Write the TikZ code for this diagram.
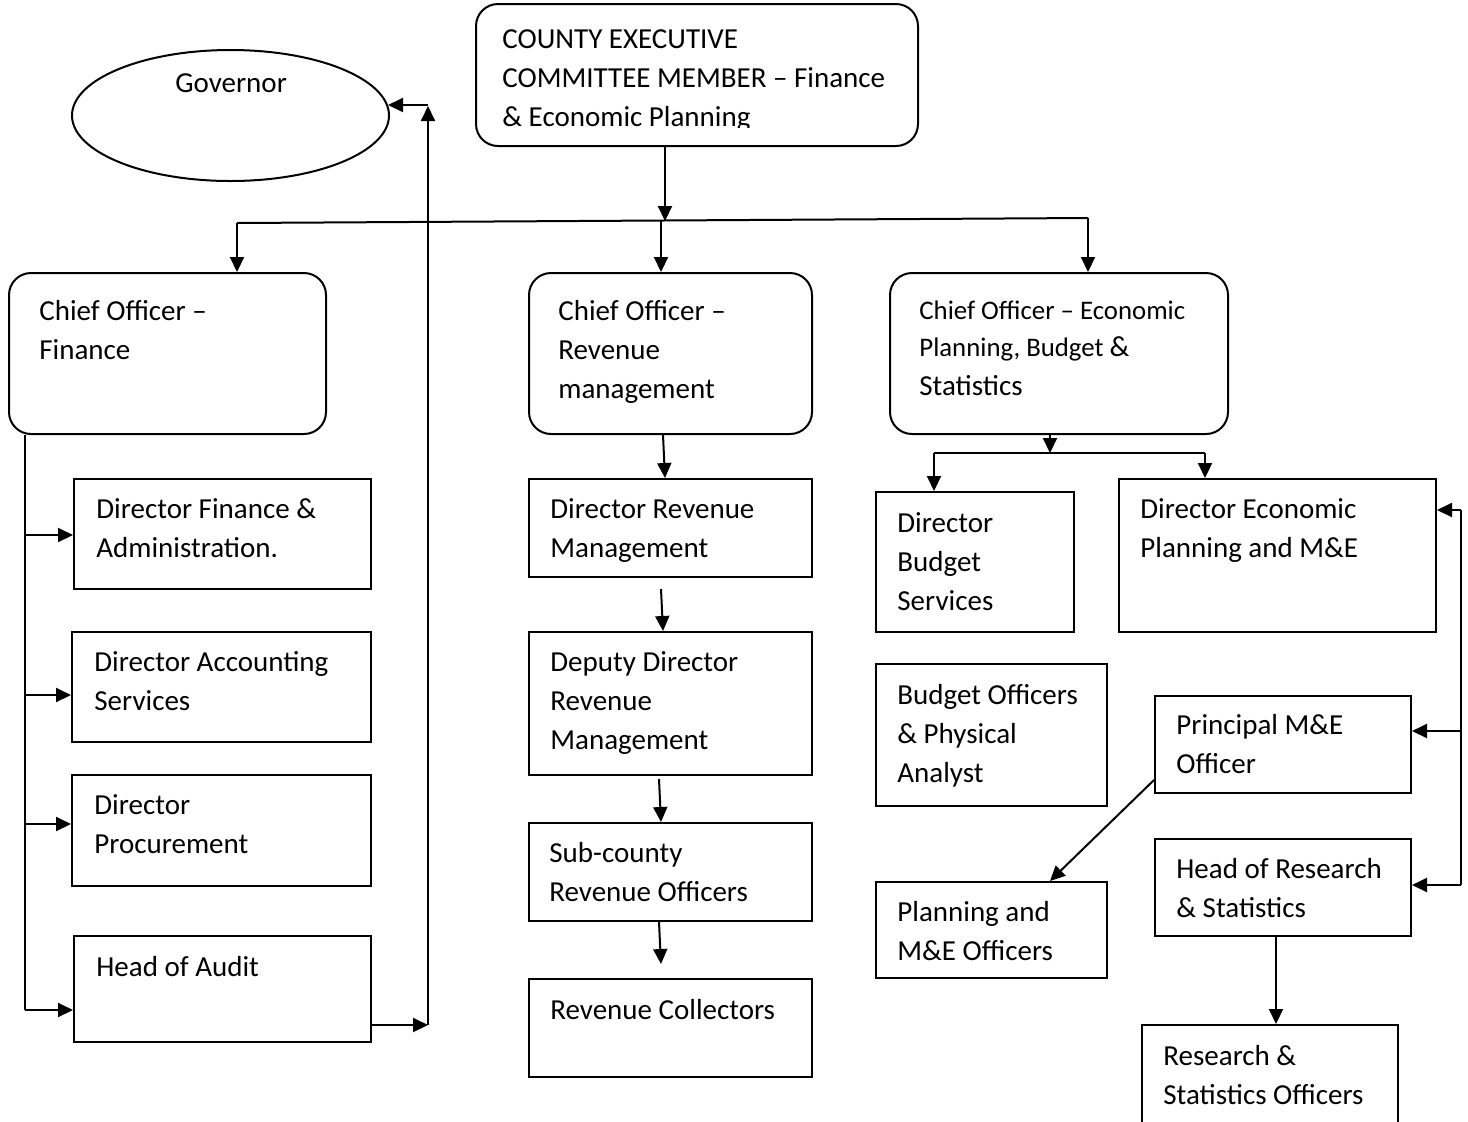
\documentclass[tikz,border=0pt]{standalone}
\usepackage{fontspec}
\setmainfont{Carlito}
\usetikzlibrary{arrows.meta,calc,fit,shapes.geometric}

\newcommand\nsz{\fontsize{14.5}{19.5}\selectfont}
\newcommand\ssz{\fontsize{13.4}{18.5}\selectfont}
\newcommand\lns[1]{\begin{tabular}[t]{@{}l@{}}#1\end{tabular}}

\tikzset{
  box/.style={draw, line width=1pt, rectangle, inner sep=0pt},
  rbox/.style={box, rounded corners=11pt},
  lbl/.style={anchor=base west, inner sep=0pt, font=\nsz},
  arr/.style={-{Triangle[length=7.5pt,width=7pt]}, line width=1pt},
  ln/.style={line width=1pt}
}

\begin{document}
\begin{tikzpicture}[x=0.5pt, y=-0.5pt]
\useasboundingbox (0,0) rectangle (1468,1121);
\fill[white] (0,0) rectangle (1468,1121);

% ---- boxes ----
\node[draw, line width=1pt, ellipse, inner sep=0pt, minimum width=158.5pt, minimum height=65.5pt] (b-gov) at (230.5,115.5) {};
\node[rbox, fit={(476,4) (918,146)}] (b-cec) {};
\node[rbox, fit={(9,273) (326,434)}] (b-cfin) {};
\node[rbox, fit={(529,273) (812,434)}] (b-crev) {};
\node[rbox, fit={(890,273) (1228,434)}] (b-ceco) {};

\node[box, fit={(74,479) (371,589)}] (b-dfa) {};
\node[box, fit={(72,632) (371,742)}] (b-das) {};
\node[box, fit={(72,775) (371,886)}] (b-dp) {};
\node[box, fit={(74,936) (371,1042)}] (b-ha) {};

\node[box, fit={(529,479) (812,577)}] (b-drm) {};
\node[box, fit={(529,632) (812,775)}] (b-ddrm) {};
\node[box, fit={(529,823) (812,921)}] (b-scro) {};
\node[box, fit={(529,979) (812,1077)}] (b-rc) {};

\node[box, fit={(876,492) (1074,632)}] (b-dbs) {};
\node[box, fit={(1119,479) (1436,632)}] (b-dep) {};
\node[box, fit={(876,664) (1107,806)}] (b-bopa) {};
\node[box, fit={(1155,696) (1411,793)}] (b-pme) {};
\node[box, fit={(876,882) (1107,978)}] (b-pmo) {};
\node[box, fit={(1155,839) (1411,936)}] (b-hrs) {};
\node[box, fit={(1142,1025) (1398,1135)}] (b-rso) {};

% ---- labels ----
\node[lbl] (t-gov) at (175,92) {Governor};
\begin{scope}
  \clip (0,0) rectangle (1468,127);
  \node[lbl] (t-cec) at (502,48) {\lns{COUNTY EXECUTIVE\\COMMITTEE MEMBER – Finance\\\& Economic Planning}};
\end{scope}
\node[lbl] (t-cfin) at (39,320) {\lns{Chief Officer –\\Finance}};
\node[lbl] (t-crev) at (558,320) {\lns{Chief Officer –\\Revenue\\management}};
\node[lbl, font=\ssz] (t-ceco1) at (919,319) {Chief Officer – Economic};
\node[lbl, font=\ssz] (t-ceco2) at (919,356) {Planning, Budget {\nsz\&}};
\node[lbl] (t-ceco3) at (919,395) {Statistics};

\node[lbl] (t-dfa) at (96,518) {\lns{Director Finance \&\\Administration.}};
\node[lbl] (t-das) at (94,671) {\lns{Director Accounting\\Services}};
\node[lbl] (t-dp) at (94,814) {\lns{Director\\Procurement}};
\node[lbl] (t-ha) at (96,976) {Head of Audit};

\node[lbl] (t-drm) at (550,518) {\lns{Director Revenue\\Management}};
\node[lbl] (t-ddrm) at (550,671) {\lns{Deputy Director\\Revenue\\Management}};
\node[lbl] (t-scro) at (549,862) {\lns{Sub-county\\Revenue Officers}};
\node[lbl] (t-rc) at (550,1019) {Revenue Collectors};

\node[lbl] (t-dbs) at (897,532) {\lns{Director\\Budget\\Services}};
\node[lbl] (t-dep) at (1140,518) {\lns{Director Economic\\Planning and M\&E}};
\node[lbl] (t-bopa) at (897,704) {\lns{Budget Officers\\\& Physical\\Analyst}};
\node[lbl] (t-pme) at (1176,734) {\lns{Principal M\&E\\Officer}};
\node[lbl] (t-pmo) at (897,921) {\lns{Planning and\\M\&E Officers}};
\node[lbl] (t-hrs) at (1176,878) {\lns{Head of Research\\\& Statistics}};
\node[lbl] (t-rso) at (1163,1065) {\lns{Research \&\\Statistics Officers}};

% ---- top distribution ----
\coordinate (hc) at (665,221);
\coordinate (hl) at (237,223);
\coordinate (hm) at (661,221);
\coordinate (hr) at (1088,218);
\draw[arr] ($(b-cec.south)+(-32,0)$) -- (hc);
\draw[ln] (hl) -- (hr);
\draw[arr] (hl) -- (hl |- b-cfin.north);
\draw[arr] (hm) -- (hm |- b-crev.north);
\draw[arr] (hr) -- (hr |- b-ceco.north);

% ---- finance branch ----
\coordinate (lt) at ($(b-cfin.south west)+(17,0)$);
\coordinate (lb) at (lt |- 0,1010);
\draw[ln] (lt) -- (lb);
\draw[arr] (lt |- 0,535) -- (b-dfa.west |- 0,535);
\draw[arr] (lt |- 0,695) -- (b-das.west |- 0,695);
\draw[arr] (lt |- 0,824) -- (b-dp.west |- 0,824);
\draw[arr] (lb) -- (b-ha.west |- lb);

% ---- audit reports to governor ----
\coordinate (au) at (428,1025);
\coordinate (ut) at (428,106);
\coordinate (ug) at (428,105);
\draw[arr] (b-ha.east |- au) -- (au);
\draw[arr] (au) -- (ut);
\draw[arr] (ug) -- ($(b-gov.east |- ug)+(-2,0)$);

% ---- revenue branch ----
\draw[arr] ($(b-crev.south)+(-7.5,0)$) -- ($(b-drm.north)+(-5.5,0)$);
\draw[arr] ($(b-drm.south)+(-9.5,11)$) -- ($(b-ddrm.north)+(-7.5,0)$);
\draw[arr] ($(b-ddrm.south)+(-11.5,3)$) -- ($(b-scro.north)+(-9.5,0)$);
\draw[arr] ($(b-scro.south)+(-11.5,0)$) -- ($(b-rc.north)+(-9.5,-14)$);

% ---- economic planning branch ----
\coordinate (ej) at (1050,453);
\coordinate (el) at (934,453);
\coordinate (er) at (1205,453);
\draw[arr] (b-ceco.south -| ej) -- (ej);
\draw[ln] (el) -- (er);
\draw[arr] (el) -- (el |- b-dbs.north);
\draw[arr] (er) -- (er |- b-dep.north);

\coordinate (r1) at (1461,510);
\coordinate (r2) at (1461,731);
\coordinate (r3) at (1461,885);
\draw[ln] (r1) -- (r3);
\draw[arr] (r1) -- (r1 -| b-dep.east);
\draw[arr] (r2) -- (r2 -| b-pme.east);
\draw[arr] (r3) -- (r3 -| b-hrs.east);

\draw[arr] (b-pme.west |- 0,780) -- ($(b-pmo.north)+(58.5,0)$);
\draw[arr] ($(b-hrs.south)+(-7,0)$) -- ($(b-rso.north)+(6,0)$);
\end{tikzpicture}
\end{document}
